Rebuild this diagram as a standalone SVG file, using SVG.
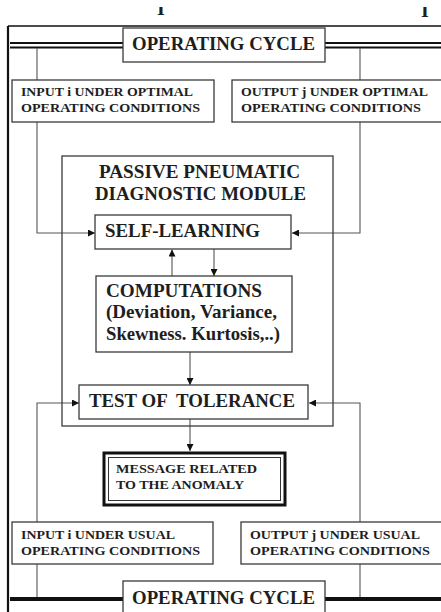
<svg xmlns="http://www.w3.org/2000/svg" width="441" height="612" viewBox="0 0 441 612">
<style>
  .t { font-family: "Liberation Serif", "Times New Roman", serif; font-weight: bold; fill: #1e1e1e; }
  .big { font-size: 19px; }
  .sm { font-size: 12.5px; }
  .box { fill: #ffffff; stroke: #3a3a3a; stroke-width: 1.3; }
  .thin { fill: none; stroke: #555; stroke-width: 1.1; }
  .frame { fill: none; stroke: #111; }
</style>
<defs>
  <marker id="ah" viewBox="0 0 8 8" refX="8" refY="4" markerWidth="7" markerHeight="7" markerUnits="userSpaceOnUse" orient="auto">
    <path d="M0,0 L8,4 L0,8 Z" fill="#111"/>
  </marker>
  <clipPath id="cut"><rect x="0" y="7" width="441" height="12"/></clipPath>
</defs>
<rect x="0" y="0" width="441" height="612" fill="#fff"/>

<g id="page-marks" clip-path="url(#cut)">
  <text class="t" x="161" y="15" font-size="20" text-anchor="middle">I</text>
  <text class="t" x="425" y="17" font-size="20" text-anchor="middle">I</text>
</g>

<g id="frame">
  <line class="frame" x1="8" y1="26" x2="441" y2="26" stroke-width="1.6"/>
  <line class="frame" x1="8" y1="26" x2="8" y2="612" stroke-width="2.2"/>
  <line class="frame" x1="10" y1="43" x2="123" y2="43" stroke-width="2"/>
  <line class="frame" x1="10" y1="47.5" x2="123" y2="47.5" stroke-width="2"/>
  <line class="frame" x1="325" y1="43" x2="441" y2="43" stroke-width="2"/>
  <line class="frame" x1="325" y1="47.5" x2="441" y2="47.5" stroke-width="2"/>
  <line class="frame" x1="10" y1="599" x2="123" y2="599" stroke-width="4"/>
  <line class="frame" x1="325" y1="599" x2="441" y2="599" stroke-width="4"/>
</g>

<g id="connectors">
  <line class="thin" x1="37" y1="48" x2="37" y2="80"/>
  <line class="thin" x1="360" y1="48" x2="360" y2="80"/>
  <path class="thin" d="M37 122 V233 H95" marker-end="url(#ah)"/>
  <path class="thin" d="M360 122 V233 H292" marker-end="url(#ah)"/>
  <path class="thin" d="M172 276 V249.5" marker-end="url(#ah)"/>
  <path class="thin" d="M214 249 V276" marker-end="url(#ah)"/>
  <path class="thin" d="M190 352 V385" marker-end="url(#ah)"/>
  <path class="thin" d="M37 522 V403 H79" marker-end="url(#ah)"/>
  <path class="thin" d="M360 522 V403 H309" marker-end="url(#ah)"/>
  <path class="thin" d="M190 419 V451" marker-end="url(#ah)"/>
  <line class="thin" x1="37" y1="564" x2="37" y2="597"/>
  <line class="thin" x1="360" y1="564" x2="360" y2="597"/>
</g>

<g id="module">
  <rect class="box" x="62" y="156" width="271" height="270" style="fill:none"/>
  <text class="t big" x="99" y="178" textLength="201" lengthAdjust="spacingAndGlyphs">PASSIVE PNEUMATIC</text>
  <text class="t big" x="95" y="200" textLength="211" lengthAdjust="spacingAndGlyphs">DIAGNOSTIC MODULE</text>
</g>

<g id="cycle-top">
  <rect class="box" x="123" y="28" width="202" height="34"/>
  <text class="t big" x="132" y="50" textLength="183" lengthAdjust="spacingAndGlyphs">OPERATING CYCLE</text>
</g>

<g id="input-optimal">
  <rect class="box" x="12" y="80" width="202" height="42"/>
  <text class="t sm" x="21" y="96" textLength="172" lengthAdjust="spacingAndGlyphs">INPUT i UNDER OPTIMAL</text>
  <text class="t sm" x="21" y="112" textLength="179" lengthAdjust="spacingAndGlyphs">OPERATING CONDITIONS</text>
</g>

<g id="output-optimal">
  <rect class="box" x="232" y="80" width="215" height="42"/>
  <text class="t sm" x="241" y="96" textLength="187" lengthAdjust="spacingAndGlyphs">OUTPUT j UNDER OPTIMAL</text>
  <text class="t sm" x="241" y="112" textLength="180" lengthAdjust="spacingAndGlyphs">OPERATING CONDITIONS</text>
</g>

<g id="self-learning">
  <rect class="box" x="95" y="215" width="196" height="34"/>
  <text class="t big" x="105" y="237" textLength="155" lengthAdjust="spacingAndGlyphs">SELF-LEARNING</text>
</g>

<g id="computations">
  <rect class="box" x="96" y="276" width="196" height="76"/>
  <text class="t big" x="106" y="297" textLength="156" lengthAdjust="spacingAndGlyphs" font-weight="normal">COMPUTATIONS</text>
  <text class="t big" x="106" y="318" textLength="171" lengthAdjust="spacingAndGlyphs">(Deviation, Variance,</text>
  <text class="t big" x="106" y="340" textLength="174" lengthAdjust="spacingAndGlyphs">Skewness. Kurtosis,..)</text>
</g>

<g id="test-tolerance">
  <rect class="box" x="79" y="385" width="229" height="34"/>
  <text class="t big" x="89" y="407" textLength="206" lengthAdjust="spacingAndGlyphs" xml:space="preserve">TEST OF  TOLERANCE</text>
</g>

<g id="message">
  <rect x="104" y="453" width="181" height="52" fill="#fff" stroke="#111" stroke-width="3"/>
  <rect x="108.5" y="457.5" width="172" height="43" fill="none" stroke="#333" stroke-width="1"/>
  <text class="t sm" x="116" y="473" textLength="141" lengthAdjust="spacingAndGlyphs">MESSAGE RELATED</text>
  <text class="t sm" x="116" y="489" textLength="128" lengthAdjust="spacingAndGlyphs">TO THE ANOMALY</text>
</g>

<g id="input-usual">
  <rect class="box" x="12" y="522" width="201" height="42"/>
  <text class="t sm" x="21" y="539" textLength="154" lengthAdjust="spacingAndGlyphs">INPUT i UNDER USUAL</text>
  <text class="t sm" x="21" y="555" textLength="179" lengthAdjust="spacingAndGlyphs">OPERATING CONDITIONS</text>
</g>

<g id="output-usual">
  <rect class="box" x="241" y="522" width="206" height="42"/>
  <text class="t sm" x="250" y="539" textLength="170" lengthAdjust="spacingAndGlyphs">OUTPUT j UNDER USUAL</text>
  <text class="t sm" x="250" y="555" textLength="180" lengthAdjust="spacingAndGlyphs">OPERATING CONDITIONS</text>
</g>

<g id="cycle-bottom">
  <rect class="box" x="123" y="581" width="202" height="40"/>
  <text class="t big" x="132" y="604" textLength="183" lengthAdjust="spacingAndGlyphs">OPERATING CYCLE</text>
</g>
</svg>
